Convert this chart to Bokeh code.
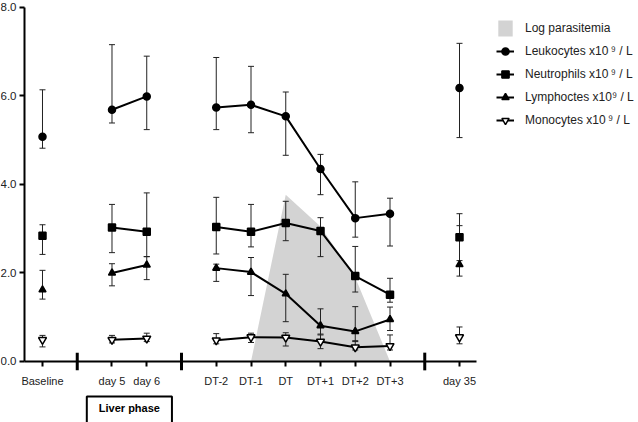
import math
from bokeh.plotting import figure
from bokeh.models import (FixedTicker, PrintfTickFormatter, Legend, LegendItem,
                          Label, ColumnDataSource)
from bokeh.embed import file_html
from bokeh.resources import INLINE
from bokeh.core.properties import value

FONT = "Liberation Sans"

# ---------------- data ----------------
groups = [["Baseline"], ["day 5", "day 6"],
          ["DT-2", "DT-1", "DT", "DT+1", "DT+2", "DT+3"], ["day 35"]]
categories = [c for g in groups for c in g]

leuko_mean = [5.08, 5.69, 5.99, 5.74, 5.80, 5.54, 4.35, 3.24, 3.34, 6.18]
leuko_hi   = [6.14, 7.16, 6.90, 6.87, 6.67, 6.09, 4.68, 4.06, 3.69, 7.19]
leuko_lo   = [4.82, 5.39, 5.24, 5.24, 5.17, 4.66, 3.77, 2.81, 2.61, 5.06]

neutro_mean = [2.84, 3.03, 2.93, 3.04, 2.93, 3.13, 2.95, 1.93, 1.51, 2.81]
neutro_hi   = [3.09, 3.55, 3.81, 3.71, 3.55, 3.62, 3.25, 2.60, 1.88, 3.34]
neutro_lo   = [2.42, 2.46, 2.37, 2.43, 2.59, 2.73, 2.37, 1.57, 1.34, 2.28]

lymph_mean = [1.62, 2.00, 2.18, 2.11, 2.02, 1.53, 0.81, 0.68, 0.95, 2.19]
lymph_hi   = [2.06, 2.21, 2.37, 2.20, 2.35, 1.97, 1.19, 1.24, 1.23, 3.07]
lymph_lo   = [1.41, 1.71, 1.85, 1.81, 1.49, 0.90, 0.60, 0.45, 0.70, 1.93]

mono_mean = [0.49, 0.49, 0.52, 0.48, 0.55, 0.54, 0.45, 0.32, 0.35, 0.55]
mono_hi   = [0.59, 0.59, 0.64, 0.63, 0.64, 0.65, 0.62, 0.47, 0.60, 0.78]
mono_lo   = [0.33, 0.42, 0.45, 0.40, 0.43, 0.35, 0.29, 0.26, 0.26, 0.40]

para_cats = ["DT-1", "DT", "DT+1", "DT+2", "DT+3"]
para_vals = [0.0, 3.77, 3.05, 1.90, 0.0]

y_ticks = [0, 2, 4, 6, 8]

# ---------------- positions (one empty slot between groups) ----------------
pos = {}
breaks = []
i = 0
for gi, g in enumerate(groups):
    if gi > 0:
        breaks.append(i)
        i += 1
    for c in g:
        pos[c] = i
        i += 1
xs = [pos[c] for c in categories]
axis_x0, x_end = -0.518, max(xs) + 0.5


def gapped(vals):
    """x/y arrays with NaN between groups so lines connect only within groups"""
    gx, gy = [], []
    k = 0
    for gi, g in enumerate(groups):
        if gi > 0:
            gx.append(float("nan")); gy.append(float("nan"))
        for c in g:
            gx.append(pos[c]); gy.append(vals[k]); k += 1
    return gx, gy


p = figure(width=638, height=422, x_range=(-1.2086, 17.151), y_range=(-1.3785, 8.158),
           output_backend="svg", toolbar_location=None,
           min_border_left=0, min_border_right=0, min_border_top=0,
           min_border_bottom=0)
p.xgrid.visible = False
p.ygrid.visible = False
p.outline_line_color = None
p.background_fill_color = "white"

# parasitemia area
para_x = [pos[c] for c in para_cats]
para_r = p.varea(x=para_x, y1=[0] * len(para_x), y2=para_vals,
                 fill_color="#d3d3d3")

series = [
    ("Leukocytes x10\u2009\u2079 / L", leuko_mean, leuko_hi, leuko_lo,
     dict(marker="circle", size=7, fill_color="black")),
    ("Neutrophils x10\u2009\u2079 / L", neutro_mean, neutro_hi, neutro_lo,
     dict(marker="square", size=7, fill_color="black")),
    ("Lymphoctes x10\u2079 / L", lymph_mean, lymph_hi, lymph_lo,
     dict(marker="triangle", size=7, fill_color="black")),
    ("Monocytes x10\u2009\u2079 / L", mono_mean, mono_hi, mono_lo,
     dict(marker="inverted_triangle", size=8, fill_color="white")),
]

# error bars first
for name, m, hi, lo, st in series:
    p.segment(x0=xs, y0=lo, x1=xs, y1=hi, line_color="#222222", line_width=1)
    p.scatter(x=xs + xs, y=hi + lo, marker="dash", size=6,
              line_color="#222222", line_width=1)

items = [LegendItem(label="Log parasitemia", renderers=[para_r])]
for name, m, hi, lo, st in series:
    gx, gy = gapped(m)
    lr = p.line(gx, gy, line_color="black", line_width=2)
    mr = p.scatter(x=xs, y=m, line_color="black", line_width=1.5, **st)
    items.append(LegendItem(label=name, renderers=[lr, mr]))

# axes (both pinned inside the frame)
p.yaxis.fixed_location = axis_x0
p.yaxis.ticker = FixedTicker(ticks=y_ticks)
p.yaxis.bounds = (0, 8)
p.yaxis.formatter = PrintfTickFormatter(format="%.1f")
p.yaxis.minor_tick_line_color = None
p.yaxis.major_tick_in = 0
p.yaxis.major_tick_out = 5
p.yaxis.major_tick_line_width = 2
p.yaxis.axis_line_width = 2
p.yaxis.major_label_standoff = 3
p.yaxis.major_label_text_font = FONT
p.yaxis.major_label_text_font_size = "11.5px"
p.yaxis.major_label_text_color = "#222222"

p.xaxis.fixed_location = 0
p.xaxis.ticker = FixedTicker(ticks=xs)
p.xaxis.bounds = (axis_x0, x_end)
p.xaxis.major_label_overrides = {pos[c]: c for c in categories}
p.xaxis.minor_tick_line_color = None
p.xaxis.major_tick_in = 0
p.xaxis.major_tick_out = 5
p.xaxis.major_tick_line_width = 2
p.xaxis.axis_line_width = 2
p.xaxis.major_label_standoff = 9
p.xaxis.major_label_text_font = FONT
p.xaxis.major_label_text_font_size = "11px"
p.xaxis.major_label_text_color = "#222222"

# axis break marks
p.segment(x0=breaks, y0=[-0.2] * len(breaks), x1=breaks, y1=[0.2] * len(breaks),
          line_width=3, line_color="black")

# liver phase box
p.add_layout(Label(x=(pos["day 5"] + pos["day 6"]) / 2, y=-0.791,
                   text="Liver phase", text_font=FONT, text_font_style="bold",
                   text_font_size="11px", text_align="center",
                   text_baseline="top", text_color="black",
                   border_line_color="black", border_line_width=2,
                   background_fill_color="white",
                   padding=dict(left=12, right=12, top=5, bottom=30)))

legend = Legend(items=items, location=(496, 292), margin=0, padding=0,
                spacing=3, glyph_width=18, glyph_height=20, label_height=20,
                label_standoff=11, label_text_font=FONT,
                label_text_font_size="12px", label_text_color="#222222",
                border_line_color=None, background_fill_alpha=0)
p.add_layout(legend)

open("out.html", "w").write(file_html(p, INLINE))
